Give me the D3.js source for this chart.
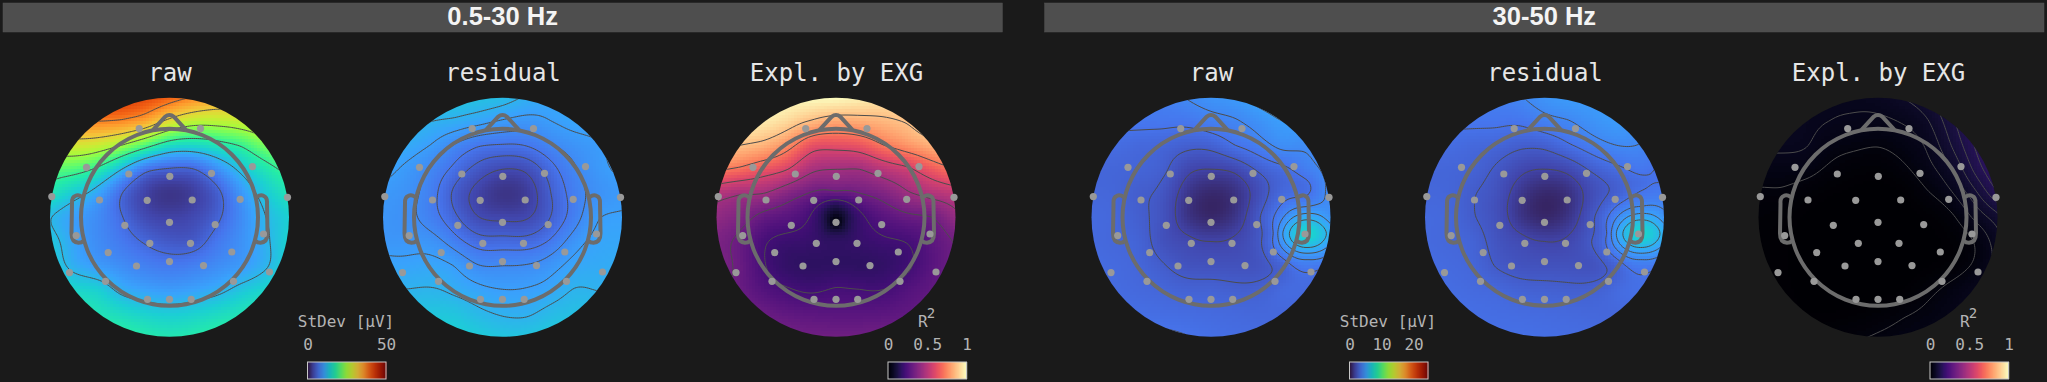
<!DOCTYPE html>
<html>
<head>
<meta charset="utf-8">
<script src="https://cdn.jsdelivr.net/npm/d3@7"></script>
<style>
html, body { margin: 0; padding: 0; background: #1a1a1a; overflow: hidden; }
</style>
</head>
<body>
<script>
// band titles and map titles
const bands = ["0.5-30 Hz", "30-50 Hz"];
const mapTitles = ["raw", "residual", "Expl. by EXG", "raw", "residual", "Expl. by EXG"];

// colorbars
const stdevTicks = [[0, 50], [0, 10, 20]];
const stdevMax = [50, 24.5];
const r2Ticks = [0, 0.5, 1];

// plotly turbo stops, the maps use these rather than d3.interpolateTurbo
const turboStops = ["#30123b", "#4145ab", "#4675ed", "#39a2fc", "#1bcfd4", "#24eca6", "#61fc6c", "#a4fc3c",
    "#d1e834", "#f3c63a", "#fe9b2d", "#f36315", "#d93806", "#b11901", "#7a0403"];

// sensor positions, head units
const sensorX = [-30.3, 31, -83, 83, -40.7, 0.3, 42, -117.7, 118, -70, -22.3, 22.7, 70.7, 0, -44.7, 45.7,
    -93.3, 94, -19.7, 21, -61.3, 62.3, 0, -33, 34, -100, 100, -64, 64, -22, 0, 21.7];
const sensorY = [-88.7, -88.7, -50, -50.7, -43.3, -41, -44, -20.7, -20, -17.3, -17, -17.3, -18, 5, 8, 7.3,
    18.3, 16.7, 26, 26, 35.3, 34.7, 44.3, 48.7, 48.3, 55.3, 54.7, 64, 64, 82, 82, 82];

// values on a 24 unit lattice, rows top to bottom, each row centred on the midline
const lattice = [-120, -96, -72, -48, -24, 0, 24, 48, 72, 96, 120];

const rawLow = [
    [43, 41.5, 39.5, 37.3, 35],
    [37.5, 37, 35, 30, 27, 27, 28],
    [29, 28, 25, 20.5, 16, 15.5, 17, 19, 23],
    [21, 20.5, 18, 12.5, 7, 6, 6, 9.5, 13.5, 17, 20],
    [17, 14, 11, 6.25, 3.5, 2.5, 3.2, 5.5, 10, 14, 17],
    [12.5, 10.5, 9, 6.5, 4, 3.5, 4, 5.8, 9, 12.5, 14.5],
    [14, 11, 9, 7.5, 6, 5, 5, 7.5, 9.5, 12, 15],
    [14.5, 11.5, 10, 9, 8, 7.5, 8, 9, 10, 12, 15],
    [15, 14.5, 11.5, 10.5, 10, 10.5, 11.5, 13.5, 15],
    [16.5, 15.5, 14.5, 14, 14.5, 15.5, 16.5],
    [18.5, 17.5, 17, 17.5, 18.5]
];
const residLow = [
    [13.5, 13.2, 12.8, 11.8, 11.2],
    [12, 11.7, 11, 10.2, 9.8, 10.4, 11],
    [11.4, 10.4, 8.6, 7.3, 7.1, 7.3, 8.6, 9.6, 10.2],
    [11, 10, 8.6, 6.8, 5, 4, 4.3, 6.5, 8.6, 10, 10.8],
    [10, 9.5, 8, 5.2, 3.4, 2.4, 3, 5.6, 8, 9.4, 10],
    [9.8, 9.2, 8, 6, 4, 3.7, 3.8, 5.6, 8, 10.4, 10.6],
    [9.8, 9.8, 9.6, 7.9, 6.3, 6.3, 6.2, 7.4, 9.7, 10.9, 11],
    [11, 10.8, 11, 10.4, 8.8, 8.8, 8.9, 9.7, 11, 11.3, 11.6],
    [12, 12.1, 11.5, 10.8, 10.4, 10.5, 11, 12.1, 11.9],
    [13.5, 13.4, 12.4, 11.8, 11.7, 12.6, 13],
    [14.5, 14, 13.5, 13.5, 14]
];
const explLow = [
    [1, 1, 1, 0.98, 0.96],
    [0.96, 0.92, 0.86, 0.82, 0.83, 0.85, 0.88],
    [0.87, 0.84, 0.76, 0.63, 0.62, 0.64, 0.72, 0.78, 0.84],
    [0.74, 0.7, 0.64, 0.58, 0.47, 0.45, 0.45, 0.51, 0.56, 0.65, 0.72],
    [0.5, 0.46, 0.45, 0.38, 0.32, 0.31, 0.33, 0.37, 0.44, 0.49, 0.53],
    [0.41, 0.37, 0.3, 0.27, 0.21, 0.05, 0.2, 0.27, 0.31, 0.33, 0.42],
    [0.36, 0.31, 0.23, 0.2, 0.19, 0.17, 0.19, 0.21, 0.225, 0.28, 0.34],
    [0.37, 0.31, 0.225, 0.18, 0.17, 0.17, 0.17, 0.18, 0.21, 0.27, 0.33],
    [0.31, 0.255, 0.225, 0.21, 0.225, 0.22, 0.22, 0.255, 0.29],
    [0.31, 0.285, 0.275, 0.27, 0.27, 0.275, 0.29],
    [0.34, 0.33, 0.33, 0.33, 0.335]
];
const rawHigh = [
    [3.9, 4.3, 4.7, 4.95, 5.5],
    [3.6, 3.6, 3.6, 3.9, 4.15, 4.6, 5.1],
    [3.2, 3.05, 2.95, 2.75, 2.8, 3.4, 3.9, 4.5, 4.4],
    [3, 2.95, 2.9, 2.7, 1.9, 1.7, 1.9, 2.7, 3.2, 3.9, 4.6],
    [3, 2.95, 2.65, 2.35, 1.3, 0.8, 1.1, 2.1, 3.1, 3.3, 4.5],
    [3.1, 3, 2.7, 2.25, 1.2, 0.75, 1.2, 2.5, 4.2, 5.63, 4.6],
    [3.1, 3, 2.85, 2.2, 1.9, 1.7, 1.85, 2.45, 4.9, 6.9, 5.2],
    [3.2, 3.1, 2.95, 2.6, 2.25, 2.2, 2.2, 2.3, 2.9, 3.8, 3.3],
    [3.15, 3.05, 2.95, 2.8, 2.8, 2.7, 2.75, 3.1, 3.1],
    [3.25, 3.2, 3.15, 3.1, 3.05, 3, 3],
    [3.5, 3.42, 3.3, 3.2, 3.15]
];
const residHigh = [
    [3.9, 4.2, 4.7, 5, 5.05],
    [3.55, 3.55, 3.55, 3.95, 4.2, 4.65, 4.95],
    [3.2, 3.05, 2.95, 2.7, 2.75, 3.3, 3.85, 4.25, 4.2],
    [3, 2.95, 2.85, 2.45, 1.9, 1.7, 1.95, 2.7, 3.2, 3.6, 3.2],
    [3, 2.95, 2.6, 2.2, 1.3, 0.8, 1.1, 2.1, 2.75, 3.5, 3.7],
    [3.1, 3, 2.6, 2.15, 1.2, 0.75, 1.2, 2.45, 4.2, 5.6, 4.6],
    [3.1, 3, 2.85, 2.3, 1.95, 1.7, 1.85, 2.6, 4.9, 6.9, 5.2],
    [3.2, 3.1, 2.95, 2.5, 2.25, 2.2, 2.2, 2.25, 2.9, 3.8, 3.3],
    [3.2, 3.1, 3, 2.8, 2.75, 2.7, 2.75, 3.1, 3.3],
    [3.25, 3.2, 3.15, 3.1, 3.05, 3, 3],
    [3.3, 3.3, 3.25, 3.2, 3.15]
];
const explHigh = [
    [0.055, 0.055, 0.06, 0.075, 0.095],
    [0.055, 0.05, 0.047, 0.045, 0.052, 0.07, 0.115],
    [0.055, 0.052, 0.035, 0.03, 0.026, 0.035, 0.052, 0.098, 0.15],
    [0.04, 0.036, 0.035, 0.02, 0.012, 0.01, 0.02, 0.04, 0.07, 0.13, 0.18],
    [0.02, 0.022, 0.012, 0.005, 0.002, 0, 0.003, 0.022, 0.045, 0.09, 0.15],
    [0.012, 0.008, 0.003, 0, 0, 0, 0, 0.005, 0.018, 0.055, 0.09],
    [0.01, 0.005, 0.002, 0, 0, 0, 0, 0.002, 0.008, 0.025, 0.065],
    [0.01, 0.005, 0, 0, 0, 0, 0, 0.002, 0.01, 0.028, 0.06],
    [0.006, 0.002, 0, 0, 0, 0.002, 0.018, 0.032, 0.05],
    [0.004, 0.004, 0.006, 0.012, 0.022, 0.03, 0.04],
    [0.015, 0.022, 0.028, 0.034, 0.04]
];

// extra readings where the lattice is too wide: the hot spot of the 30-50 Hz maps, the dip of the R2 map
const spotX = [97, 78.3, 115.7, 97, 97, 71.7, 97, 97, 66.3, 97, 97, 63, 96];
const spotY = [16, 16, 16, 2.7, 30, 16, -4, 36, 16, -10.7, 42, 16, -33];
const rawHighSpot = [7.4, 5.95, 5.95, 5.95, 5.95, 5.1, 5.1, 5.1, 4.25, 4.25, 4.25, 3.4, 3.25];
const residHighSpot = [7.4, 5.95, 5.95, 5.95, 5.95, 5.1, 5.1, 5.1, 4.25, 4.25, 4.25, 3.4, 3.2];
const dipX = [0, -11, 11, 0, 0];
const dipY = [5.3, 5.3, 5.3, 16, -14];
const explLowDip = [0.01, 0.13, 0.13, 0.14, 0.17];

// contour levels per map
const rawLowLevels = [6.25, 12.5, 18.75, 25, 31.25, 37.5];
const residLowLevels = [4, 5.6, 7.2, 8.8, 10.4, 12];
const explLowLevels = [0.22, 0.33, 0.45, 0.58, 0.72, 0.87];
const highLevels = [1.7, 2.55, 3.4, 4.25, 5.1, 5.95];
const explHighLevels = [0.025, 0.05, 0.075, 0.1, 0.125, 0.15];

const width = 2047, height = 382;
const bgColor = "#1a1a1a";
const headColor = "#6c6c6c";
const lineColor = "#4c4c4c";
const headRadius = 88.5;
const mapRadius = 119.5;
const mapCy = 217.3;
const mapCx = [169.5, 502.5, 836, 1211, 1544.5, 1878];

const turbo = d3.piecewise(d3.interpolateRgb, turboStops);
const turboScale = i => d3.scaleSequential(turbo).domain([0, stdevMax[i]]).clamp(true);
const magmaScale = d3.scaleSequential(d3.interpolateMagma).domain([0, 1]).clamp(true);

const maps = [
    { rows: rawLow, levels: rawLowLevels, color: turboScale(0), smooth: 0.01 },
    { rows: residLow, levels: residLowLevels, color: turboScale(0), smooth: 0.01 },
    { rows: explLow, levels: explLowLevels, color: magmaScale, ex: dipX, ey: dipY, ev: explLowDip, smooth: 0.001 },
    { rows: rawHigh, levels: highLevels, color: turboScale(1), ex: spotX, ey: spotY, ev: rawHighSpot, smooth: 0.002 },
    { rows: residHigh, levels: highLevels, color: turboScale(1), ex: spotX, ey: spotY, ev: residHighSpot, smooth: 0.002 },
    { rows: explHigh, levels: explHighLevels, color: magmaScale, smooth: 0.01 }
];

// thin plate spline through the readings, this is what smooths the map between them
function fitSpline(xs, ys, vs, smooth) {
    const n = xs.length, m = n + 3;
    const kernel = r2 => r2 > 0 ? r2 * Math.log(r2) / 2 : 0;
    const A = [];
    for (let i = 0; i < m; i++) A.push(new Float64Array(m + 1));
    for (let i = 0; i < n; i++) {
        for (let j = 0; j < n; j++) {
            const dx = (xs[i] - xs[j]) / 100, dy = (ys[i] - ys[j]) / 100;
            A[i][j] = kernel(dx * dx + dy * dy);
        }
        A[i][i] = smooth;
        A[i][n] = A[n][i] = 1;
        A[i][n + 1] = A[n + 1][i] = xs[i] / 100;
        A[i][n + 2] = A[n + 2][i] = ys[i] / 100;
        A[i][m] = vs[i];
    }
    for (let c = 0; c < m; c++) {
        let p = c;
        for (let r = c + 1; r < m; r++) if (Math.abs(A[r][c]) > Math.abs(A[p][c])) p = r;
        const t = A[c]; A[c] = A[p]; A[p] = t;
        for (let r = c + 1; r < m; r++) {
            const f = A[r][c] / A[c][c];
            if (f === 0) continue;
            for (let k = c; k <= m; k++) A[r][k] -= f * A[c][k];
        }
    }
    const w = new Float64Array(m);
    for (let r = m - 1; r >= 0; r--) {
        let s = A[r][m];
        for (let k = r + 1; k < m; k++) s -= A[r][k] * w[k];
        w[r] = s / A[r][r];
    }
    return (x, y) => {
        let s = w[n] + w[n + 1] * x / 100 + w[n + 2] * y / 100;
        for (let i = 0; i < n; i++) {
            const dx = (x - xs[i]) / 100, dy = (y - ys[i]) / 100;
            s += w[i] * kernel(dx * dx + dy * dy);
        }
        return s;
    };
}

function mapField(map) {
    const xs = [], ys = [], vs = [];
    map.rows.forEach((row, r) => {
        const offset = (lattice.length - row.length) / 2;
        row.forEach((v, c) => {
            xs.push(lattice[c + offset]);
            ys.push(lattice[r]);
            vs.push(v);
        });
    });
    if (map.ex) map.ex.forEach((x, i) => {
        xs.push(x);
        ys.push(map.ey[i]);
        vs.push(map.ev[i]);
    });
    return fitSpline(xs, ys, vs, map.smooth);
}

var svg = d3.select("body").append("svg")
    .attr("width", width)
    .attr("height", height)
    .style("display", "block");

svg.append("rect")
    .attr("width", width)
    .attr("height", height)
    .attr("fill", bgColor);

// band header bars
var bandScale = d3.scaleBand().domain(bands).range([3, 2044]).paddingInner(0.0407);

svg.append("g").selectAll("rect")
    .data(bands)
    .enter().append("rect")
    .attr("x", d => bandScale(d))
    .attr("y", 3)
    .attr("width", bandScale.bandwidth())
    .attr("height", 29)
    .attr("fill", "#4e4e4e")
    .attr("stroke", "#565656")
    .attr("stroke-width", 0.5);

svg.append("g").selectAll("text")
    .data(bands)
    .enter().append("text")
    .attr("x", d => bandScale(d) + bandScale.bandwidth() / 2)
    .attr("y", 25)
    .attr("text-anchor", "middle")
    .attr("font-family", "'Liberation Sans', Arial, sans-serif")
    .attr("font-weight", "bold")
    .attr("font-size", 25.5)
    .attr("fill", "#f4f4f4")
    .text(d => d);

// maps
var defs = svg.append("defs");
const cell = 3;

maps.forEach(function (map, i) {
    var field = mapField(map);

    var xScale = d3.scaleLinear().domain([-120, 120]).range([mapCx[i] - 120, mapCx[i] + 120]);
    var yScale = d3.scaleLinear().domain([-120, 120]).range([mapCy - 120, mapCy + 120]);

    defs.append("clipPath").attr("id", "clip" + i)
        .append("circle")
        .attr("cx", xScale(0))
        .attr("cy", yScale(0))
        .attr("r", mapRadius);

    var g = svg.append("g").attr("class", "map");
    g.append("text")
        .attr("x", xScale(0) + 0.5)
        .attr("y", 80.5)
        .attr("text-anchor", "middle")
        .attr("font-family", "'DejaVu Sans Mono', monospace")
        .attr("font-size", 24)
        .attr("fill", "#e6e6e6")
        .text(mapTitles[i]);

    var inside = g.append("g").attr("clip-path", "url(#clip" + i + ")");

    // heat cells
    var cells = [];
    for (let y = -123; y < 123; y += cell) {
        for (let x = -123; x < 123; x += cell) {
            if (Math.hypot(x + cell / 2, y + cell / 2) < 124) {
                cells.push({ x: x, y: y, v: field(x + cell / 2, y + cell / 2) });
            }
        }
    }
    inside.append("g").attr("shape-rendering", "crispEdges")
        .selectAll("rect")
        .data(cells)
        .enter().append("rect")
        .attr("x", d => xScale(d.x))
        .attr("y", d => yScale(d.y))
        .attr("width", cell)
        .attr("height", cell)
        .attr("fill", d => map.color(d.v));

    // contour lines, field sampled wider than the clip so the frame of the polygons stays hidden
    const step = 2, lo = -130, n = 131;
    var values = new Float64Array(n * n);
    for (let r = 0; r < n; r++) {
        for (let c = 0; c < n; c++) {
            values[r * n + c] = field(lo + c * step, lo + r * step);
        }
    }
    var polys = d3.contours().size([n, n]).thresholds(map.levels)(values);
    var toScreen = d3.geoTransform({
        point: function (px, py) {
            this.stream.point(xScale(lo + (px - 0.5) * step), yScale(lo + (py - 0.5) * step));
        }
    });
    inside.append("g").selectAll("path")
        .data(polys)
        .enter().append("path")
        .attr("d", d3.geoPath(toScreen))
        .attr("fill", "none")
        .attr("stroke", lineColor)
        .attr("stroke-width", 1);

    // head outline
    var head = g.append("g")
        .attr("transform", "translate(" + xScale(0) + "," + yScale(0) + ")")
        .attr("fill", "none")
        .attr("stroke", headColor)
        .attr("stroke-width", 4)
        .attr("stroke-linecap", "round")
        .attr("stroke-linejoin", "round");
    head.append("circle").attr("r", headRadius);
    head.append("path").attr("d", "M-16,-88 L-4.5,-100.5 Q0,-104 4.5,-100.5 L16,-88");
    head.append("path").attr("d", "M-87.5,-20.5 Q-91,-23 -94,-21.5 Q-98,-20 -97.5,-14 L-98,16 Q-98,25 -91,25.5 Q-88,25.5 -86,23.5");
    head.append("path").attr("d", "M87.5,-20.5 Q91,-23 94,-21.5 Q98,-20 97.5,-14 L98,16 Q98,25 91,25.5 Q88,25.5 86,23.5");

    // sensors
    g.append("g").selectAll("circle")
        .data(sensorX)
        .enter().append("circle")
        .attr("cx", d => xScale(d))
        .attr("cy", (d, k) => yScale(sensorY[k]))
        .attr("r", 3.6)
        .attr("fill", "#999999");
});

// colorbars
const barW = 78.5;
const monoFont = "'DejaVu Sans Mono', monospace";
const labelColor = "#b4b4b4";

function colorbar(x0, domainMax, ticks, color) {
    var scale = d3.scaleLinear().domain([0, domainMax]).range([x0, x0 + barW]);
    var g = svg.append("g").attr("class", "colorbar");

    g.append("g").selectAll("rect")
        .data(d3.range(0, barW, 1))
        .enter().append("rect")
        .attr("x", d => x0 + d)
        .attr("y", 362)
        .attr("width", 1.2)
        .attr("height", 17)
        .attr("fill", d => color(scale.invert(x0 + d + 0.5)));

    g.append("rect")
        .attr("x", x0)
        .attr("y", 362)
        .attr("width", barW)
        .attr("height", 17)
        .attr("fill", "none")
        .attr("stroke", "#c8c8c8")
        .attr("stroke-width", 1);

    var axis = g.append("g")
        .attr("transform", "translate(0,356)")
        .call(d3.axisTop(scale).tickValues(ticks).tickSize(0).tickPadding(0).tickFormat(d => d));
    axis.select(".domain").remove();
    axis.selectAll("text")
        .attr("font-family", monoFont)
        .attr("font-size", 16)
        .attr("fill", labelColor)
        .attr("y", -6);
    return scale;
}

[0, 1].forEach(function (b) {
    var dx = b * 1042;
    colorbar(307.5 + dx, stdevMax[b], stdevTicks[b], turboScale(b));
    colorbar(888 + dx, 1, r2Ticks, magmaScale);

    svg.append("text")
        .attr("x", 346 + dx)
        .attr("y", 327)
        .attr("text-anchor", "middle")
        .attr("font-family", monoFont)
        .attr("font-size", 16)
        .attr("fill", labelColor)
        .text("StDev [μV]");

    var r2 = svg.append("text")
        .attr("x", 918 + dx)
        .attr("y", 327)
        .attr("font-family", monoFont)
        .attr("font-size", 16)
        .attr("fill", labelColor);
    r2.append("tspan").text("R");
    r2.append("tspan").attr("dy", -9).attr("dx", -1).attr("font-size", 14).text("2");
});
</script>
</body>
</html>
